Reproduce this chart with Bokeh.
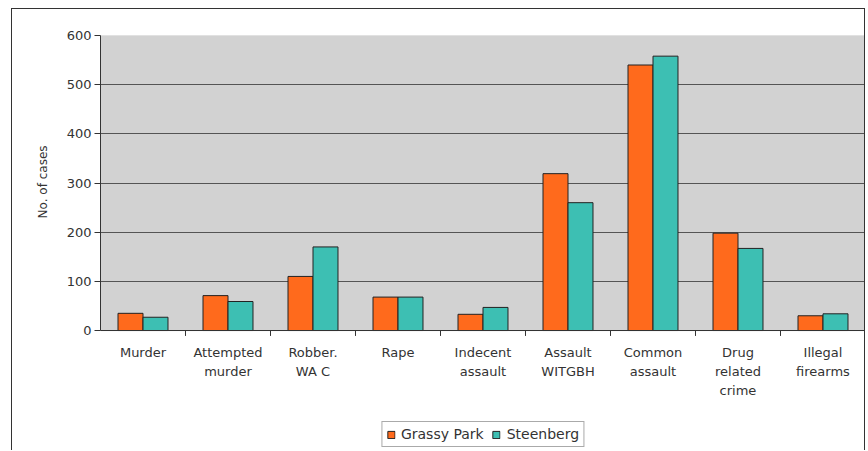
from bokeh.plotting import figure
from bokeh.models import (ColumnDataSource, FactorRange, Range1d, Legend, LegendItem,
                          BoxAnnotation, Span)
from bokeh.core.properties import value
from bokeh.transform import dodge
from bokeh.embed import file_html
from bokeh.resources import INLINE

categories = ["Murder", "Attempted murder", "Robber. WAC", "Rape", "Indecent assault",
              "Assault WITGBH", "Common assault", "Drug related crime", "Illegal firearms"]
tick_labels = ["Murder", "Attempted\nmurder", "Robber.\nWA C", "Rape", "Indecent\nassault",
               "Assault\nWITGBH", "Common\nassault", "Drug\nrelated\ncrime", "Illegal\nfirearms"]
grassy_park = [35, 71, 110, 68, 33, 319, 540, 198, 30]
steenberg = [27, 59, 170, 68, 47, 260, 558, 167, 34]
y_ticks = [0, 100, 200, 300, 400, 500, 600]
series_names = ["Grassy Park", "Steenberg"]
y_title = "No. of cases"

ORANGE = "#ff6a1c"
TEAL = "#3dbfb3"
FONT = "DejaVu Sans"
TXT = "#333333"

src = ColumnDataSource(dict(cat=categories, gp=grassy_park, st=steenberg,
                            lab=tick_labels))
bsrc = ColumnDataSource(dict(cat=categories[:-1]))

# frame extends below the value axis so the category labels and legend live inside it
Y_MIN, Y_MAX = -244, 600
LABEL_Y = -29
TICK_Y = -11

p = figure(x_range=FactorRange(*categories), y_range=Range1d(Y_MIN, Y_MAX),
           width=854, height=442, output_backend="svg", toolbar_location=None,
           min_border_left=88, min_border_right=1, min_border_top=26, min_border_bottom=1)
p.styles = {"margin-left": "11px", "margin-top": "8px",
            "border-left": "1px solid #333", "border-top": "1px solid #333",
            "border-right": "1px solid #333"}

p.background_fill_color = "white"
p.border_fill_color = "white"
p.outline_line_color = None

plot_area = BoxAnnotation(bottom=0, top=Y_MAX, fill_color="#d2d2d2", fill_alpha=1,
                          line_color="#777777", line_width=1, level="image")
p.add_layout(plot_area)

r1 = p.vbar(x=dodge("cat", -0.147, range=p.x_range), top="gp", width=0.294, source=src,
            fill_color=ORANGE, line_color="#222222", line_width=1)
r2 = p.vbar(x=dodge("cat", 0.147, range=p.x_range), top="st", width=0.294, source=src,
            fill_color=TEAL, line_color="#222222", line_width=1)

# category axis line, boundary ticks and labels
p.add_layout(Span(location=0, dimension="width", line_color="#333333", line_width=1))
p.segment(x0=dodge("cat", 0.5, range=p.x_range), y0=0,
          x1=dodge("cat", 0.5, range=p.x_range), y1=TICK_Y,
          source=bsrc, line_color="#333333", line_width=1)
p.text(x="cat", y=LABEL_Y, text="lab", source=src, text_font=value(FONT),
       text_font_size="13px", text_color=TXT, text_align="center",
       text_baseline="top", text_line_height=1.28)

p.xaxis.visible = False
p.ygrid.grid_line_color = "#555555"
p.ygrid.grid_line_width = 1
p.ygrid.bounds = (0, Y_MAX)
p.xgrid.grid_line_color = None

p.yaxis.ticker = y_ticks
p.yaxis.bounds = (0, Y_MAX)
p.yaxis.axis_line_color = "#333333"
p.yaxis.major_tick_line_color = "#333333"
p.yaxis.major_tick_out = 6
p.yaxis.major_tick_in = 0
p.yaxis.minor_tick_line_color = None
p.yaxis.major_label_text_font = FONT
p.yaxis.major_label_text_font_size = "13px"
p.yaxis.major_label_text_color = TXT
p.yaxis.major_label_standoff = 3
# leading no-break spaces lift the centred title to the middle of the value range
p.yaxis.axis_label = "\u00a0" * 32 + y_title
p.yaxis.axis_label_text_font = FONT
p.yaxis.axis_label_text_font_size = "12px"
p.yaxis.axis_label_text_font_style = "normal"
p.yaxis.axis_label_text_color = TXT
p.yaxis.axis_label_standoff = 14

legend = Legend(items=[LegendItem(label=series_names[0], renderers=[r1]),
                       LegendItem(label=series_names[1], renderers=[r2])],
                orientation="horizontal", location="bottom_center")
legend.label_text_font = FONT
legend.label_text_font_size = "14px"
legend.label_text_color = TXT
legend.glyph_width = 9
legend.glyph_height = 9
legend.spacing = 8
legend.label_standoff = 6
legend.padding = 4
legend.margin = 3
legend.border_line_color = "#555555"
legend.background_fill_color = "white"
legend.background_fill_alpha = 1
p.add_layout(legend, "center")

open("out.html", "w").write(file_html(p, INLINE))
